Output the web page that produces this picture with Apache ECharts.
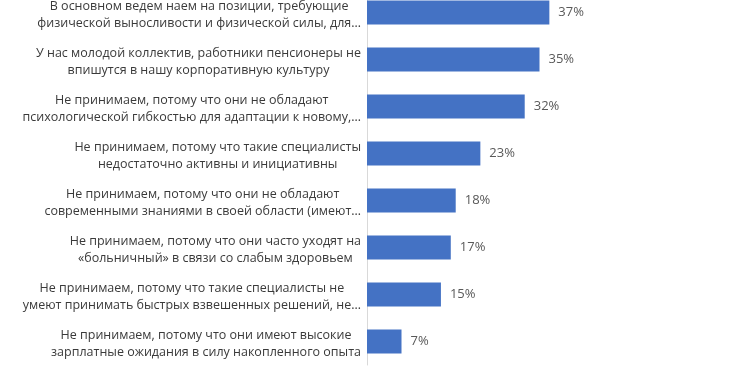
<!DOCTYPE html>
<html>
<head>
<meta charset="utf-8">
<script src="https://cdn.jsdelivr.net/npm/echarts@6/dist/echarts.min.js"></script>
<style>
html,body{margin:0;padding:0;background:#fff;overflow:hidden;}
#wrap{position:relative;width:732px;height:372px;overflow:hidden;}
#chart{position:absolute;left:0;top:-11px;width:732px;height:390px;}
</style>
</head>
<body>
<div id="wrap"><div id="chart"></div></div>
<script>
const categories = [
  "В основном ведем наем на позиции, требующие\nфизической выносливости и физической силы, для…",
  "У нас молодой коллектив, работники пенсионеры не\nвпишутся в нашу корпоративную культуру",
  "Не принимаем, потому что они не обладают\nпсихологической гибкостью для адаптации к новому,…",
  "Не принимаем, потому что такие специалисты\nнедостаточно активны и инициативны",
  "Не принимаем, потому что они не обладают\nсовременными знаниями в своей области (имеют…",
  "Не принимаем, потому что они часто уходят на\n«больничный» в связи со слабым здоровьем",
  "Не принимаем, потому что такие специалисты не\nумеют принимать быстрых взвешенных решений, не…",
  "Не принимаем, потому что они имеют высокие\nзарплатные ожидания в силу накопленного опыта"
];
const values = [37, 35, 32, 23, 18, 17, 15, 7];

const chart = echarts.init(document.getElementById('chart'), null, {renderer: 'canvas'});
chart.setOption({
  animation: false,
  backgroundColor: '#ffffff',
  grid: {left: 367, top: 0, height: 376, right: 20, outerBoundsMode: 'none', containLabel: false},
  xAxis: {
    type: 'value', min: 0, max: 70, show: false,
    splitLine: {show: false}
  },
  yAxis: {
    type: 'category', inverse: true, data: categories,
    axisLine: {show: true, lineStyle: {color: '#d9d9d9', width: 1}},
    axisTick: {show: false},
    axisLabel: {
      margin: 6,
      padding: [4, 0, 0, 0],
      color: '#3a3a3a',
      fontFamily: 'Open Sans',
      fontSize: 12.5,
      lineHeight: 17,
      formatter: function (v) {
        return v.split('\n').map(function (s) { return '{c|' + s + '}'; }).join('\n');
      },
      rich: {
        c: {align: 'center', color: '#3a3a3a', fontFamily: 'Open Sans', fontSize: 12.5, lineHeight: 17}
      }
    }
  },
  series: [{
    type: 'bar',
    data: values,
    barWidth: 24,
    itemStyle: {color: '#4472C4'},
    label: {
      show: true, position: 'right', distance: 9,
      formatter: '{c}%',
      color: '#595959', fontFamily: 'Open Sans', fontSize: 13
    }
  }]
});
</script>
</body>
</html>
